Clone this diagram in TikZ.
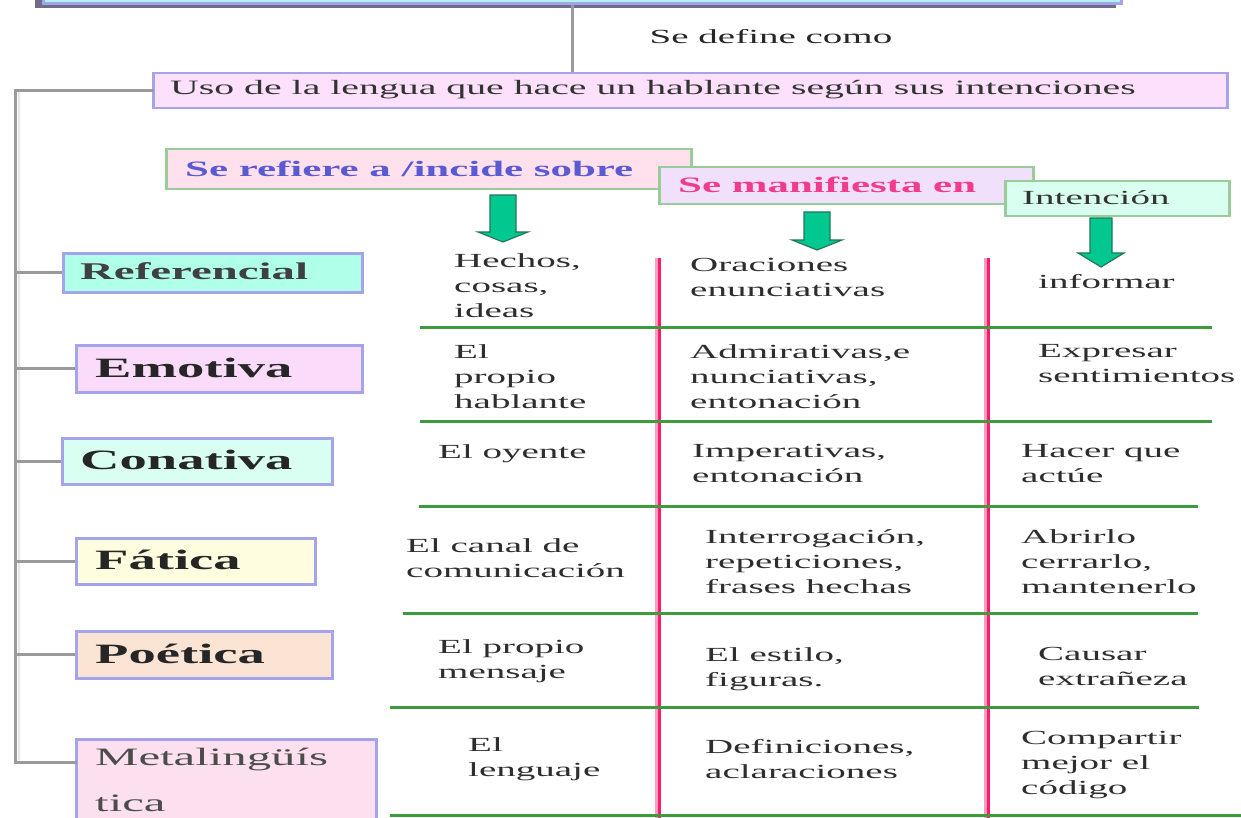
\documentclass[tikz,border=0pt]{standalone}
\usepackage{fontspec}
\setmainfont{Liberation Serif}[FakeStretch=1.95]
\usetikzlibrary{calc}
\definecolor{lboxc}{HTML}{A4A4EA}
\definecolor{hboxc}{HTML}{98CC98}
\definecolor{treec}{HTML}{9A9A9A}
\definecolor{treelight}{HTML}{E4E4E4}
\definecolor{gridc}{HTML}{3E9A3E}
\definecolor{sepc}{HTML}{FF1A70}
\definecolor{seplight}{HTML}{FF9CC2}
\definecolor{arrowc}{HTML}{00C88E}
\definecolor{arrowd}{HTML}{24785A}
\definecolor{celltext}{HTML}{2E2E2E}
\definecolor{topfill}{HTML}{B4F2F2}
\definecolor{topshadow}{HTML}{6E6E88}
\definecolor{usofill}{HTML}{FCE0FC}
\definecolor{h1fill}{HTML}{FFE0EC}
\definecolor{h2fill}{HTML}{F0E0FC}
\definecolor{h3fill}{HTML}{D8FFF0}
\definecolor{h1text}{HTML}{5A5AD2}
\definecolor{h2text}{HTML}{F03C8C}
\definecolor{reffill}{HTML}{B0FFE8}
\definecolor{emofill}{HTML}{FADCFA}
\definecolor{confill}{HTML}{D8FFF2}
\definecolor{fatfill}{HTML}{FFFDE0}
\definecolor{poefill}{HTML}{FCE4D4}
\definecolor{metafill}{HTML}{FCE0F0}
\begin{document}
\begin{tikzpicture}[x=1pt,y=-1pt,
  lbox/.style={draw=lboxc, line width=2.5pt, anchor=north west, inner sep=0pt},
  hbox/.style={draw=hboxc, line width=2.5pt, anchor=north west, inner sep=0pt},
  cell/.style={anchor=north west, inner sep=0pt, align=left, text=celltext, font=\fontsize{20}{25}\selectfont},
  lab/.style={anchor=west, inner sep=0pt, text=black!85},
  tree/.style={draw=treec, line width=3pt},
  grid/.style={draw=gridc, line width=3pt},
  sepl/.style={draw=seplight, line width=3pt},
  sep/.style={draw=sepc, line width=3pt},
  arrowshape/.style={fill=arrowc, draw=arrowd, line width=1.2pt, line join=miter}]
\useasboundingbox[fill=white] (0,0) rectangle (1241,818);

% top (cut) box
\fill[topshadow] (35,-20) rectangle (1116,8);
\node[draw=lboxc, fill=topfill, line width=2.5pt, anchor=south west, inner sep=0pt,
      minimum width=1078, minimum height=30] (top) at (42,5) {};

% definition box
\node[lbox, fill=usofill, minimum width=1074, minimum height=35] (uso) at (152,72) {};
\node[lab, text=black!80, font=\fontsize{20.4}{24}\selectfont] (usot) at (170,90)
  {Uso de la lengua que hace un hablante según sus intenciones};

\coordinate (mid) at (572,0);
\draw[tree] (top.south -| mid) -- (uso.north -| mid);
\node[inner sep=0pt, text=black!85, font=\fontsize{20}{24}\selectfont] (def) at (771,37) {Se define como};

% left boxes
\node[lbox, fill=reffill, minimum width=299, minimum height=39] (ref) at (62,252) {};
\node[lab, font=\fontsize{24}{28}\selectfont\bfseries, text=black!75] (reft) at (80,271.5) {Referencial};
\node[lbox, fill=emofill, minimum width=286, minimum height=47] (emo) at (75,344) {};
\node[lab, font=\fontsize{28}{32}\selectfont\bfseries] (emot) at (95,367.5) {Emotiva};
\node[lbox, fill=confill, minimum width=270, minimum height=46] (con) at (61,437) {};
\node[lab, font=\fontsize{28}{32}\selectfont\bfseries] (cont) at (80,460) {Conativa};
\node[lbox, fill=fatfill, minimum width=239, minimum height=46] (fat) at (75,537) {};
\node[lab, font=\fontsize{28}{32}\selectfont\bfseries] (fatt) at (95,560) {Fática};
\node[lbox, fill=poefill, minimum width=256, minimum height=47] (poe) at (75,630) {};
\node[lab, font=\fontsize{28}{32}\selectfont\bfseries] (poet) at (95,653.5) {Poética};
\node[lbox, fill=metafill, minimum width=300, minimum height=110] (meta) at (75,738) {};
\node[anchor=north west, inner sep=0pt, align=left, text=black!70,
      font=\fontsize{25}{46}\selectfont] (metat) at (95,748) {Metalingüís\\tica};

% tree
\coordinate (tk) at (15,0);
\coordinate (metab) at (75,762);
\draw[treelight, line width=2pt] (18.5,91) -- (18.5,760);
\draw[tree, line cap=rect] (uso.west) -| (tk |- metab) -- (metab);
\draw[tree] (ref.west) -- (ref.west -| tk);
\draw[tree] (emo.west) -- (emo.west -| tk);
\draw[tree] (con.west) -- (con.west -| tk);
\draw[tree] (fat.west) -- (fat.west -| tk);
\draw[tree] (poe.west) -- (poe.west -| tk);

% header boxes
\node[hbox, fill=h1fill, minimum width=525, minimum height=40] (h1) at (165,148) {};
\node[lab, text=h1text, font=\fontsize{22}{26}\selectfont\bfseries] (h1t) at (185,169) {Se refiere a /incide sobre};
\node[hbox, fill=h2fill, minimum width=374, minimum height=37] (h2) at (658,166) {};
\node[lab, text=h2text, font=\fontsize{22}{26}\selectfont\bfseries] (h2t) at (678,185) {Se manifiesta en};
\node[hbox, fill=h3fill, minimum width=224, minimum height=35] (h3) at (1004,180) {};
\node[lab, text=black!80, font=\fontsize{20}{24}\selectfont] (h3t) at (1022,198) {Intención};

% green arrows
\draw[arrowshape] (490,195) -- ++(26,0) -- ++(0,37) -- ++(12,0) -- (503,242) -- ++(-25,-10) -- ++(12,0) -- cycle;
\draw[arrowshape] (804,212) -- ++(26,0) -- ++(0,28) -- ++(12,0) -- (817,250) -- ++(-25,-10) -- ++(12,0) -- cycle;
\draw[arrowshape] (1090,218) -- ++(22,0) -- ++(0,35) -- ++(12,0) -- (1101,267) -- ++(-23,-14) -- ++(12,0) -- cycle;

% column separators
\draw[sepl] (656,258) -- (656,818);
\draw[sep] (659,258) -- (659,818);
\draw[sepl] (985,258) -- (985,818);
\draw[sep] (988,258) -- (988,818);

% row lines
\draw[grid] (420,327) -- (1212,327);
\draw[grid] (420,421) -- (1212,421);
\draw[grid] (419,506) -- (1198,506);
\draw[grid] (403,613) -- (1198,613);
\draw[grid] (390,707) -- (1199,707);
\draw[grid] (390,815) -- (1241,815);

% cells
\node[cell] (a1) at (454,253) {Hechos,\\cosas,\\ideas};
\node[cell] (b1) at (690,258) {Oraciones\\enunciativas};
\node[cell] (c1) at (1038,274) {informar};
\node[cell] (a2) at (454,344) {El\\propio\\hablante};
\node[cell] (b2) at (690,344) {Admirativas,e\\nunciativas,\\entonación};
\node[cell] (c2) at (1038,344) {Expresar\\sentimientos};
\node[cell] (a3) at (438,444) {El oyente};
\node[cell] (b3) at (692,444) {Imperativas,\\entonación};
\node[cell] (c3) at (1021,444) {Hacer que\\actúe};
\node[cell] (a4) at (406,538) {El canal de\\comunicación};
\node[cell] (b4) at (705,529) {Interrogación,\\repeticiones,\\frases hechas};
\node[cell] (c4) at (1021,529) {Abrirlo\\cerrarlo,\\mantenerlo};
\node[cell] (a5) at (438,639) {El propio\\mensaje};
\node[cell] (b5) at (705,647) {El estilo,\\figuras.};
\node[cell] (c5) at (1038,647) {Causar\\extrañeza};
\node[cell] (a6) at (468,737) {El\\lenguaje};
\node[cell] (b6) at (705,739) {Definiciones,\\aclaraciones};
\node[cell] (c6) at (1021,731) {Compartir\\mejor el\\código};
\end{tikzpicture}
\end{document}
